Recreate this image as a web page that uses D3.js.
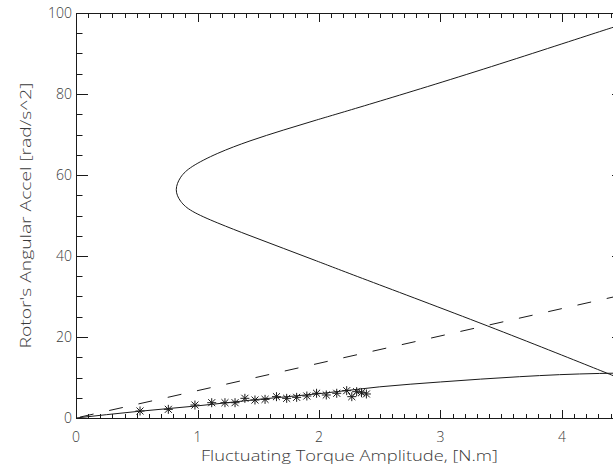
<!DOCTYPE html>
<html>
<head>
<meta charset="utf-8">
<script src="https://cdn.jsdelivr.net/npm/d3@7"></script>
<style>
  html, body { margin: 0; padding: 0; background: #fff; }
  svg { display: block; overflow: hidden; }
  text { font-family: "Open Sans", "DejaVu Sans", sans-serif; font-weight: 300; fill: #3a3a3a; }
</style>
</head>
<body>
<svg id="chart" width="613" height="468"></svg>
<script>
// Steady-state response: lower (stable) branch, starting at the origin
const stableBranch = [
  [0, 0], [0.5, 1.6], [1.0, 3.0], [1.5, 4.6], [2.0, 6.0], [2.5, 7.7],
  [3.0, 8.9], [3.33, 9.6], [3.65, 10.2], [3.98, 10.7], [4.31, 11.0], [4.5, 11.1]
];

// Upper response curve, ordered by acceleration: middle branch up to the
// turning point, then the upper branch
const upperCurve = [
  [4.5, 9.5], [4.41, 10.6], [3.41, 22.6], [2.255, 35.6], [1.98, 38.8],
  [1.706, 41.9], [1.432, 45.0], [1.158, 48.2], [0.938, 51.1], [0.856, 53.4],
  [0.81, 56.3], [0.856, 59.6], [0.938, 62.0], [1.158, 65.4], [1.432, 68.5],
  [1.706, 71.1], [1.98, 73.6], [2.255, 76.0], [3.257, 85.1], [4.42, 96.5], [4.5, 97.2]
];

// Linear reference (dashed)
const linearRef = [[0, 0], [4.5, 30.4]];

// Measured points (asterisks)
const measuredTorque = [0.527, 0.76, 0.979, 1.117, 1.226, 1.309, 1.39, 1.473, 1.556,
  1.65, 1.734, 1.816, 1.9, 1.98, 2.06, 2.146, 2.228, 2.27, 2.31, 2.35, 2.39];
const measuredAccel = [1.73, 2.14, 3.2, 3.78, 3.78, 3.78, 4.86, 4.44, 4.6,
  5.27, 4.85, 5.1, 5.43, 6.1, 5.68, 6.1, 6.75, 5.27, 6.5, 6.25, 5.93];

const xMajorTicks = [0, 1, 2, 3, 4];
const yMajorTicks = [0, 20, 40, 60, 80, 100];
const xTitle = "Fluctuating Torque Amplitude, [N.m]";
const yTitle = "Rotor's Angular Accel [rad/s^2]";

const margin = { left: 76, top: 13 };
const plotW = 546.75, plotH = 405;

const svg = d3.select("#chart");
const x = d3.scaleLinear().domain([0, 4.5]).range([margin.left, margin.left + plotW]);
const y = d3.scaleLinear().domain([0, 100]).range([margin.top + plotH, margin.top]);

svg.append("defs").append("clipPath").attr("id", "plotClip")
  .append("rect")
  .attr("x", x(0)).attr("y", y(100))
  .attr("width", plotW).attr("height", plotH);

const ink = "#1a1a1a";
const px = v => Math.round(v);
const L = px(x(0)), R = px(x(4.5)), B = px(y(0)), T = px(y(100));

// Frame
svg.append("path")
  .attr("d", `M${L + 0.5},${T + 0.5}H${R + 0.5}V${B + 0.5}H${L + 0.5}Z`)
  .attr("fill", "none").attr("stroke", ink).attr("stroke-width", 1);

// Ticks on all four sides, pointing inward (minor ticks half length),
// drawn as 1-pixel filled bars
const xMinor = d3.range(1, 45).map(i => i / 10).filter(v => !xMajorTicks.includes(v));
const yMinor = d3.range(5, 100, 5).filter(v => !yMajorTicks.includes(v));
const xTicks = xMajorTicks.map(v => ({ v, len: 8 })).concat(xMinor.map(v => ({ v, len: 4 })));
const yTicks = yMajorTicks.map(v => ({ v, len: 11 })).concat(yMinor.map(v => ({ v, len: 5.5 })));

const tickG = svg.append("g").attr("fill", ink);
tickG.selectAll("rect.xb").data(xTicks).join("rect").attr("class", "xb")
  .attr("x", d => px(x(d.v))).attr("width", 1)
  .attr("y", d => B - d.len).attr("height", d => d.len + 1);
tickG.selectAll("rect.xt").data(xTicks).join("rect").attr("class", "xt")
  .attr("x", d => px(x(d.v))).attr("width", 1)
  .attr("y", T).attr("height", d => d.len + 1);
tickG.selectAll("rect.yl").data(yTicks).join("rect").attr("class", "yl")
  .attr("y", d => px(y(d.v))).attr("height", 1)
  .attr("x", L).attr("width", d => d.len + 1);
tickG.selectAll("rect.yr").data(yTicks).join("rect").attr("class", "yr")
  .attr("y", d => px(y(d.v))).attr("height", 1)
  .attr("x", d => R - d.len).attr("width", d => d.len + 1);

// Tick labels
svg.append("g").selectAll("text").data(xMajorTicks).join("text")
  .attr("x", d => x(d)).attr("y", y(0) + 24)
  .attr("text-anchor", "middle").attr("font-size", 14)
  .text(d3.format("d"));
svg.append("g").selectAll("text").data(yMajorTicks).join("text")
  .attr("x", x(0) - 4).attr("y", d => y(d)).attr("dy", "0.36em")
  .attr("text-anchor", "end").attr("font-size", 14)
  .text(d3.format("d"));

// Axis titles
svg.append("text")
  .attr("x", (x(0) + x(4.5)) / 2).attr("y", 461)
  .attr("text-anchor", "middle")
  .attr("font-size", 14.5)
  .attr("textLength", 297).attr("lengthAdjust", "spacingAndGlyphs")
  .text(xTitle);

svg.append("text")
  .attr("transform", `translate(31,${(y(0) + y(100)) / 2}) rotate(-90)`)
  .attr("text-anchor", "middle")
  .attr("font-size", 14.5)
  .attr("textLength", 266).attr("lengthAdjust", "spacingAndGlyphs")
  .text(yTitle);

// Curves
const plot = svg.append("g").attr("clip-path", "url(#plotClip)");

plot.append("path").datum(stableBranch)
  .attr("d", d3.line().x(d => x(d[0])).y(d => y(d[1])).curve(d3.curveMonotoneX))
  .attr("fill", "none").attr("stroke", ink).attr("stroke-width", 1);

plot.append("path").datum(upperCurve)
  .attr("d", d3.line().x(d => x(d[0])).y(d => y(d[1])).curve(d3.curveBasis))
  .attr("fill", "none").attr("stroke", ink).attr("stroke-width", 1);

plot.append("path").datum(linearRef)
  .attr("d", d3.line().x(d => x(d[0])).y(d => y(d[1])))
  .attr("fill", "none").attr("stroke", ink).attr("stroke-width", 1)
  .attr("stroke-dasharray", "14,16").attr("stroke-dashoffset", -4);

// Asterisk markers
const r = 4.5;
plot.append("g").selectAll("path")
  .data(measuredTorque.map((t, i) => [t, measuredAccel[i]]))
  .join("path")
  .attr("d", d => {
    const cx = x(d[0]), cy = y(d[1]), k = r * 0.78;
    return `M${cx - r},${cy}H${cx + r}M${cx},${cy - r}V${cy + r}` +
           `M${cx - k},${cy - k}L${cx + k},${cy + k}M${cx - k},${cy + k}L${cx + k},${cy - k}`;
  })
  .attr("fill", "none").attr("stroke", ink).attr("stroke-width", 1);
</script>
</body>
</html>
